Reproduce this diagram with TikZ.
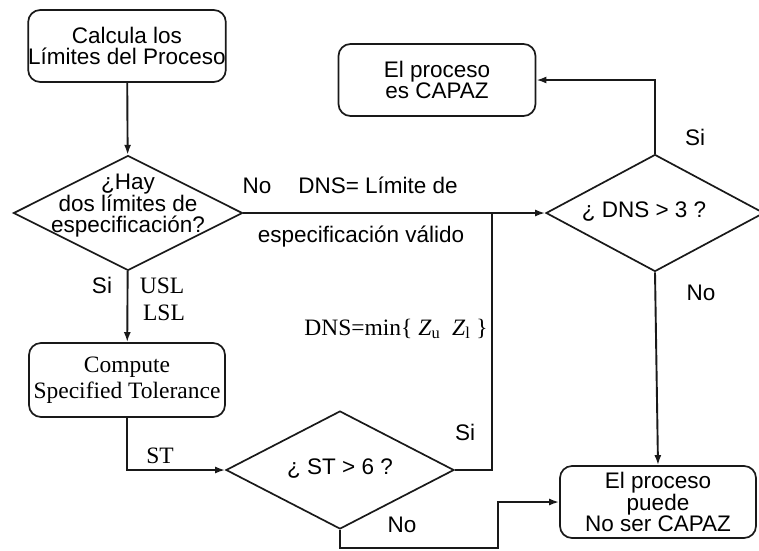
\documentclass[tikz,border=0pt]{standalone}
\usepackage{fontspec}
\setmainfont{Liberation Sans}
\newfontfamily\romfont{Liberation Serif}
\usetikzlibrary{shapes.geometric,arrows.meta}

\tikzset{
  flow/.style={line width=1.9pt, draw=black!90},
  arr/.style={flow, -{Latex[length=10pt,width=7pt]}},
  proc/.style={draw=black!90, line width=1.7pt, rounded corners=12pt,
    minimum width=196pt, minimum height=72pt, inner sep=0pt, align=center},
  choice/.style={draw=black!90, line width=1.7pt, shape=diamond, inner sep=0pt},
  sans/.style={font=\fontsize{22.5}{21.5}\selectfont},
  rom/.style={font=\romfont\fontsize{23.5}{26}\selectfont},
  lbl/.style={inner sep=0pt, anchor=base},
}

\begin{document}
\begin{tikzpicture}[x=1pt,y=-1pt]
\useasboundingbox (0,0) rectangle (759,550);

% process boxes
\node[proc, sans] (calc) at (127,46) {Calcula los\\Límites del Proceso};
\node[proc, sans, minimum width=197pt] (capaz) at (437,80) {El proceso\\es CAPAZ};
\node[proc, sans] (nocapaz) at (658,502) {El proceso\\puede\\No ser CAPAZ};
\node[proc, rom, minimum height=74pt] (comp) at (127,380) {Compute\\Specified Tolerance};

% decisions
\node[choice, minimum width=229pt, minimum height=115pt] (twolim) at (128,213) {};
\node[sans, align=center, inner sep=0pt] (twolimtxt) at (128,206) {¿Hay\\dos límites de\\especificación?};

\node[choice, minimum width=218pt, minimum height=117pt] (dns) at (655,213) {};
\node[sans, inner sep=0pt] (dnstxt) at (644,212) {¿ DNS > 3 ?};

\node[choice, minimum width=228pt, minimum height=118pt] (st) at (340,470) {};
\node[sans, inner sep=0pt] (sttxt) at (340,469) {¿ ST > 6 ?};

% auxiliary bend points
\coordinate (join) at (492,213);
\coordinate (lowbend) at (498,548);

% connectors
\draw[arr] (calc) -- (twolim);
\draw[arr] (twolim) -- (comp);
\draw[arr] (twolim.east) -- (dns.west);
\draw[arr] (comp.south) |- (st.west);
\draw[flow] (st.east) -| (join);
\draw[arr] (dns.north) |- (capaz.east);
\draw[arr] (dns.south) -- (nocapaz.north);
\draw[arr] (st.south) |- (lowbend) |- (nocapaz.west);

% connector labels
\node[lbl, sans] (lno1) at (257,193) {No};
\node[lbl, sans] (ldns1) at (378,193) {DNS= Límite de};
\node[lbl, sans] (ldns2) at (361,242) {especificación válido};
\node[lbl, rom] (ldnsmin) at (396,335) {DNS=min\{ \textit{Z}\textsubscript{u}\ \ \textit{Z}\textsubscript{l} \}};
\node[lbl, sans] (lsi2) at (695,145) {Si};
\node[lbl, sans] (lno2) at (701,300) {No};
\node[lbl, sans] (lsi1) at (102,293) {Si};
\node[lbl, rom] (lusl) at (162,293) {USL};
\node[lbl, rom] (llsl) at (164,320) {LSL};
\node[lbl, rom] (lst) at (160,463) {ST};
\node[lbl, sans] (lsi3) at (465,440) {Si};
\node[lbl, sans] (lno3) at (402,532) {No};
\end{tikzpicture}
\end{document}
